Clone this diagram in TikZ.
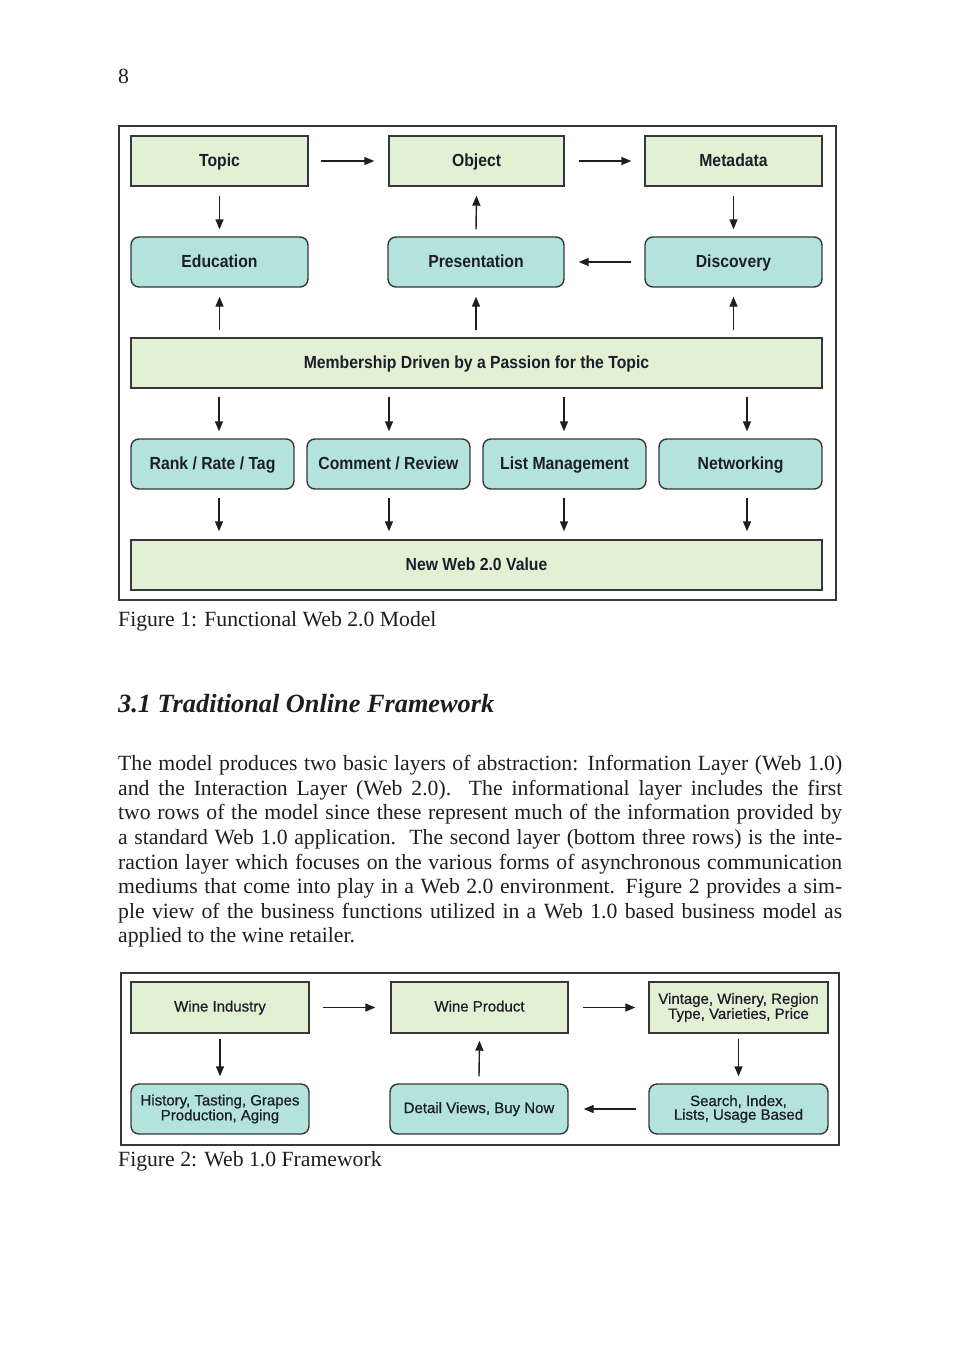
\documentclass[tikz,border=0pt]{standalone}
\usepackage{fontspec}
\setmainfont{Liberation Serif}
\newfontfamily\boxfont[FakeStretch=0.9]{Liberation Sans}
\newfontfamily\boxfontr[FakeBold=0.7]{Liberation Sans}
\usetikzlibrary{arrows.meta}
\definecolor{greenc}{HTML}{E2F0D4}
\definecolor{tealc}{HTML}{B3E3DB}
\definecolor{bordc}{HTML}{36363C}
\definecolor{txtc}{HTML}{1E1E2A}
\definecolor{inkc}{HTML}{1E1E1E}
\tikzset{
  gbox/.style={draw=bordc, fill=greenc, line width=1.4pt, inner sep=0pt, text=txtc,
    text height=13pt, text depth=3pt,
    font={\boxfont\bfseries\fontsize{17.5}{20}\selectfont}},
  tbox/.style={gbox, fill=tealc, rounded corners=8pt},
  gboxb/.style={draw=bordc, fill=greenc, line width=1.4pt, inner sep=0pt, text=txtc, align=center,
    font={\boxfontr\fontsize{15}{13.7}\selectfont}},
  tboxb/.style={gboxb, fill=tealc, rounded corners=8pt},
  oneline/.style={text height=11pt, text depth=3pt},
  arr/.style={-{Triangle[length=10pt,width=8pt]}, line width=1.4pt, draw=inkc, fill=inkc},
  frame/.style={draw=bordc, line width=1.8pt},
  bodyline/.style={anchor=base west, inner sep=0pt, text=inkc, font={\fontsize{21.7}{24.5}\selectfont}},
}
\begin{document}
\begin{tikzpicture}[x=1pt,y=-1pt]
\fill[white] (0,0) rectangle (960,1357);
\useasboundingbox (0,0) rectangle (960,1357);

% page number
\node[bodyline] (pnum) at (118,83.3) {8};

% ---------- Figure 1 ----------
\draw[frame] (119,126) rectangle (836,600);

\node[gbox, minimum width=177pt, minimum height=50pt] (topic) at (219.5,161) {Topic};
\node[gbox, minimum width=175pt, minimum height=50pt] (object) at (476.5,161) {Object};
\node[gbox, minimum width=177pt, minimum height=50pt] (meta) at (733.5,161) {Metadata};

\node[tbox, minimum width=177pt, minimum height=50pt] (edu) at (219.5,262) {Education};
\node[tbox, minimum width=176pt, minimum height=50pt] (pres) at (476,262) {Presentation};
\node[tbox, minimum width=177pt, minimum height=50pt] (disc) at (733.5,262) {Discovery};

\node[gbox, minimum width=691pt, minimum height=50pt] (mem) at (476.5,363) {Membership Driven by a Passion for the Topic};

\node[tbox, minimum width=163pt, minimum height=50pt] (rank) at (212.5,464) {Rank / Rate / Tag};
\node[tbox, minimum width=163pt, minimum height=50pt] (comm) at (388.5,464) {Comment / Review};
\node[tbox, minimum width=163pt, minimum height=50pt] (list) at (564.5,464) {List Management};
\node[tbox, minimum width=163pt, minimum height=50pt] (netw) at (740.5,464) {Networking};

\node[gbox, minimum width=691pt, minimum height=50pt] (newv) at (476.5,565) {New Web 2.0 Value};

\draw[arr] ([xshift=12pt]topic.east) -- ([xshift=-14pt]object.west);
\draw[arr] ([xshift=14pt]object.east) -- ([xshift=-13pt]meta.west);
\draw[arr] ([yshift=-9pt]topic.south) -- ([yshift=7pt]edu.north);
\draw[arr] ([yshift=7pt]pres.north) -- ([yshift=-9pt]object.south);
\draw[arr] ([yshift=-9pt]meta.south) -- ([yshift=7pt]disc.north);
\draw[arr] ([xshift=-13pt]disc.west) -- ([xshift=14pt]pres.east);

\draw[arr] ([yshift=7pt]mem.north -| edu.south) -- ([yshift=-9pt]edu.south);
\draw[arr] ([yshift=7pt]mem.north -| pres.south) -- ([yshift=-9pt]pres.south);
\draw[arr] ([yshift=7pt]mem.north -| disc.south) -- ([yshift=-9pt]disc.south);

\coordinate (c1) at (219,0);
\coordinate (c2) at (389,0);
\coordinate (c3) at (564,0);
\coordinate (c4) at (747,0);
\draw[arr] ([yshift=-8pt]mem.south -| c1) -- ([yshift=7pt]rank.north -| c1);
\draw[arr] ([yshift=-8pt]mem.south -| c2) -- ([yshift=7pt]comm.north -| c2);
\draw[arr] ([yshift=-8pt]mem.south -| c3) -- ([yshift=7pt]list.north -| c3);
\draw[arr] ([yshift=-8pt]mem.south -| c4) -- ([yshift=7pt]netw.north -| c4);

\draw[arr] ([yshift=-8pt]rank.south -| c1) -- ([yshift=8pt]newv.north -| c1);
\draw[arr] ([yshift=-8pt]comm.south -| c2) -- ([yshift=8pt]newv.north -| c2);
\draw[arr] ([yshift=-8pt]list.south -| c3) -- ([yshift=8pt]newv.north -| c3);
\draw[arr] ([yshift=-8pt]netw.south -| c4) -- ([yshift=8pt]newv.north -| c4);

\node[bodyline] (cap1) at (118,626) {Figure 1: Functional Web 2.0 Model};

% ---------- Section ----------
\node[bodyline, font={\bfseries\itshape\fontsize{26.3}{30}\selectfont}] (sec) at (118,712) {3.1 Traditional Online Framework};

\node[bodyline] (l1) at (118,770.7) {\makebox[724pt][s]{The model produces two basic layers of abstraction: Information Layer (Web 1.0)}};
\node[bodyline] (l2) at (118,795.3) {\makebox[724pt][s]{and the Interaction Layer (Web 2.0).\ \ The informational layer includes the first}};
\node[bodyline] (l3) at (118,819.8) {\makebox[724pt][s]{two rows of the model since these represent much of the information provided by}};
\node[bodyline] (l4) at (118,844.4) {\makebox[724pt][s]{a standard Web 1.0 application.\ \ The second layer (bottom three rows) is the inte-}};
\node[bodyline] (l5) at (118,869.0) {\makebox[724pt][s]{raction layer which focuses on the various forms of asynchronous communication}};
\node[bodyline] (l6) at (118,893.5) {\makebox[724pt][s]{mediums that come into play in a Web 2.0 environment. Figure 2 provides a sim-}};
\node[bodyline] (l7) at (118,918.1) {\makebox[724pt][s]{ple view of the business functions utilized in a Web 1.0 based business model as}};
\node[bodyline] (l8) at (118,942.7) {applied to the wine retailer.};

% ---------- Figure 2 ----------
\draw[frame] (121,973) rectangle (839,1145);

\node[gboxb, oneline, minimum width=178pt, minimum height=51pt] (ind) at (220,1007.5) {Wine Industry};
\node[gboxb, oneline, minimum width=177pt, minimum height=51pt] (prod) at (479.5,1007.5) {Wine Product};
\node[gboxb, minimum width=179pt, minimum height=51pt] (vin) at (738.5,1007.5) {Vintage, Winery, Region\\Type, Varieties, Price};

\node[tboxb, minimum width=178pt, minimum height=50pt] (hist) at (220,1109) {History, Tasting, Grapes\\Production, Aging};
\node[tboxb, oneline, minimum width=178pt, minimum height=50pt] (det) at (479,1109) {Detail Views, Buy Now};
\node[tboxb, minimum width=179pt, minimum height=50pt] (srch) at (738.5,1109) {Search, Index,\\Lists, Usage Based};

\draw[arr] ([xshift=13pt]ind.east) -- ([xshift=-15pt]prod.west);
\draw[arr] ([xshift=14pt]prod.east) -- ([xshift=-13pt]vin.west);
\draw[arr] ([yshift=-5pt]ind.south) -- ([yshift=7pt]hist.north);
\draw[arr] ([yshift=7pt]det.north) -- ([yshift=-7pt]prod.south);
\draw[arr] ([yshift=-5pt]vin.south) -- ([yshift=7pt]srch.north);
\draw[arr] ([xshift=-12pt]srch.west) -- ([xshift=15pt]det.east);

\node[bodyline] (cap2) at (118,1166.7) {Figure 2: Web 1.0 Framework};
\end{tikzpicture}
\end{document}
